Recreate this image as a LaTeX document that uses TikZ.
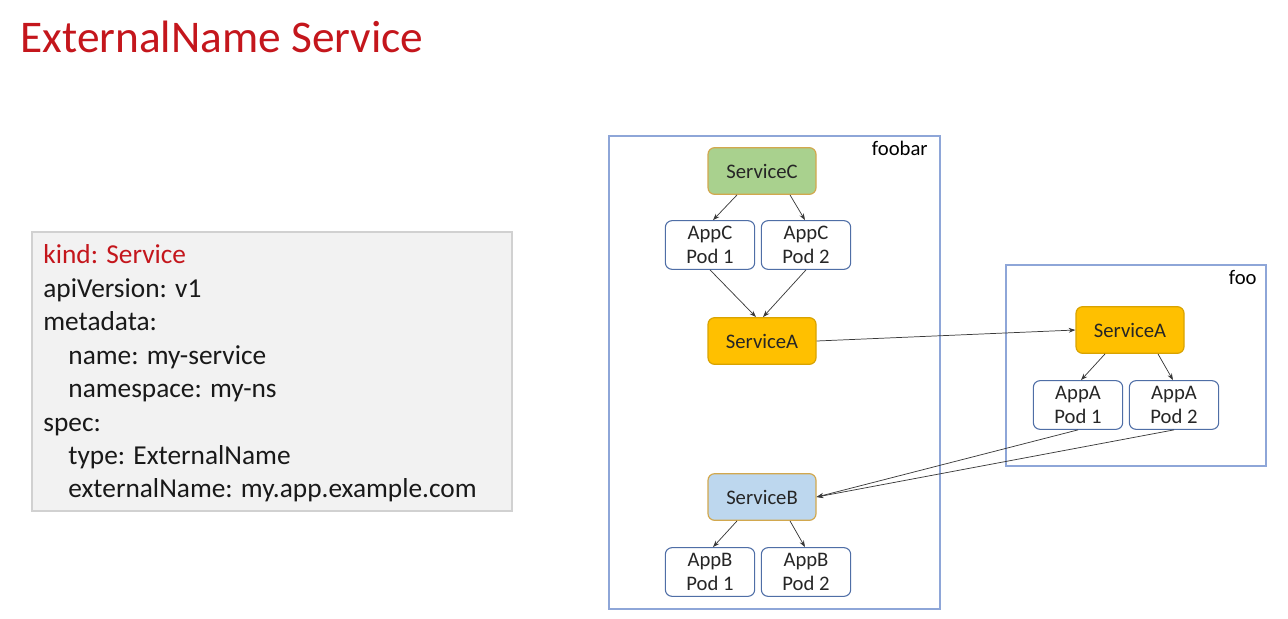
\documentclass[tikz,border=0pt]{standalone}
\usepackage{fontspec}
\setmainfont{Carlito}
\usetikzlibrary{arrows.meta,calc}
\definecolor{titlered}{HTML}{C4161C}
\definecolor{boxblue}{HTML}{8EA6D8}
\definecolor{podblue}{HTML}{4F6EA6}
\definecolor{svcgreen}{HTML}{A9D18E}
\definecolor{svcgold}{HTML}{FFC000}
\definecolor{svcblue}{HTML}{BDD7EE}
\definecolor{rimgold}{HTML}{D2A84E}
\definecolor{linegray}{HTML}{3A3A3A}

\begin{document}
\begin{tikzpicture}[x=0.75pt,y=-0.75pt,line width=0.6pt,
  nodefont/.style={font=\fontsize{15.5}{17.5}\selectfont},
  svc/.style={nodefont,rounded corners=5pt,minimum width=81pt,minimum height=35pt,
    line width=0.9pt,text=black!85},
  pod/.style={nodefont,draw=podblue,fill=white,rounded corners=5pt,minimum width=67pt,
    minimum height=36.5pt,align=center,inner sep=1pt,line width=0.8pt,text=black!85},
  nsbox/.style={draw=boxblue,line width=1.1pt},
  arr/.style={draw=linegray,line width=0.55pt,-{Stealth[length=5pt,width=3.6pt]}}]
  \useasboundingbox (0,0) rectangle (1288,618);

  % title
  \node[anchor=base west,inner sep=0pt,text=titlered,font=\fontsize{34}{40}\selectfont]
    (title) at (20,52) {ExternalName Service};

  % yaml box
  \draw[draw=black!18,fill=black!5,line width=1pt] (32,232) rectangle (512,511);
  \node[anchor=base west,inner sep=0pt,text=titlered,font=\fontsize{20.5}{24}\selectfont]
    (l1) at (43,263) {kind: Service};
  \foreach \y/\x/\txt in {297/43/{apiVersion: v1},330/43/{metadata:},
      364/68/{name: my-service},397/68/{namespace: my-ns},431/43/{spec:},
      464/68/{type: ExternalName},497/68/{externalName: my.app.example.com}}
    \node[anchor=base west,inner sep=0pt,text=black!90,font=\fontsize{20.5}{24}\selectfont]
      at (\x,\y) {\txt};

  % namespaces
  \draw[nsbox] (609,136) rectangle (940,609);
  \node[anchor=base east,inner sep=0pt,nodefont] (foobar) at (928,155) {foobar};
  \draw[nsbox] (1006,265) rectangle (1266,466);
  \node[anchor=base east,inner sep=0pt,nodefont] (foo) at (1257,284) {foo};

  % services
  \node[svc,draw=rimgold,fill=svcgreen] (sc) at (762,171) {ServiceC};
  \node[svc,draw=svcgold!85!black,fill=svcgold] (sa) at (762,341) {ServiceA};
  \node[svc,draw=rimgold,fill=svcblue] (sb) at (762,497) {ServiceB};
  \node[svc,draw=svcgold!85!black,fill=svcgold] (fa) at (1130,330) {ServiceA};

  % pods
  \node[pod] (pc1) at (710,245) {AppC\\Pod 1};
  \node[pod] (pc2) at (806,245) {AppC\\Pod 2};
  \node[pod] (pa1) at (1078,405) {AppA\\Pod 1};
  \node[pod] (pa2) at (1174,405) {AppA\\Pod 2};
  \node[pod] (pb1) at (710,572) {AppB\\Pod 1};
  \node[pod] (pb2) at (806,572) {AppB\\Pod 2};

  % service -> pods
  \foreach \s/\a/\b in {sc/pc1/pc2,fa/pa1/pa2,sb/pb1/pb2} {
    \draw[arr] ($(\s.south)+(-25,0)$) -- ($(\a.north)+(3,0)$);
    \draw[arr] ($(\s.south)+(28,0)$) -- ($(\b.north)+(-1,0)$);
  }
  \draw[arr] (pc1.south) -- ($(sa.north)+(-6,0)$);
  \draw[arr] (pc2.south) -- ($(sa.north)+(1,0)$);

  % cross namespace
  \draw[arr] (sa.east) -- (fa.west);
  \draw[arr] (pa1.south) -- (sb.east);
  \draw[arr] (pa2.south) -- (sb.east);
\end{tikzpicture}
\end{document}
